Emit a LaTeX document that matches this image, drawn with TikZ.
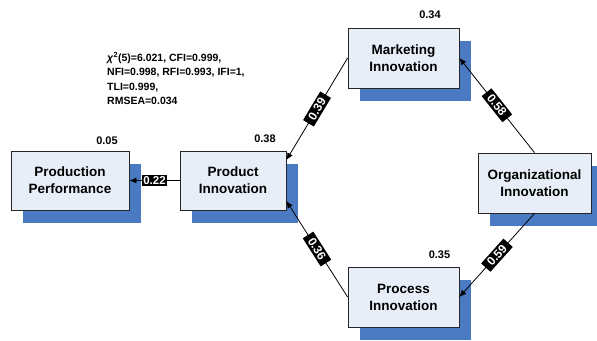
\documentclass[tikz,border=0pt]{standalone}
\usepackage{fontspec}
\setmainfont{Liberation Sans}
\usetikzlibrary{arrows.meta,shadows}
\definecolor{boxfill}{HTML}{E8EEF8}
\definecolor{shadowblue}{HTML}{4A7AC2}
\begin{document}
\begin{tikzpicture}[x=1pt,y=-1pt,
  varbox/.style={draw=black!85, line width=0.8pt, fill=boxfill, align=center,
    font=\fontsize{13.5}{17}\selectfont\bfseries, inner sep=0pt,
    drop shadow={shadow xshift=12pt, shadow yshift=-13pt, fill=shadowblue, opacity=1}},
  conn/.style={-{Latex[length=7pt,width=6pt]}, line width=0.8pt},
  coef/.style={midway, sloped, fill=black, text=white,
    font=\fontsize{12}{12}\selectfont\bfseries, inner xsep=5pt, inner ysep=2pt},
  coefh/.style={midway, fill=black, text=white,
    font=\fontsize{11.5}{11.5}\selectfont\bfseries, inner xsep=1pt, inner ysep=1.5pt},
  rsq/.style={font=\fontsize{11}{11}\selectfont\bfseries, inner sep=0pt}]
\useasboundingbox (0,0) rectangle (597,340);

\node[varbox, minimum width=118pt, minimum height=59pt] (pp) at (70,180.5) {Production\\Performance};
\node[varbox, minimum width=106pt, minimum height=59pt] (pi) at (233,180.5) {Product\\Innovation};
\node[varbox, minimum width=111pt, minimum height=60pt] (mi) at (403.5,58) {Marketing\\Innovation};
\node[varbox, minimum width=113pt, minimum height=60pt] (oi) at (534.5,183) {Organizational\\Innovation};
\node[varbox, minimum width=111pt, minimum height=60pt] (pr) at (403.5,297) {Process\\Innovation};

\node[rsq] (r1) at (107,141) {0.05};
\node[rsq] (r2) at (265,139) {0.38};
\node[rsq] (r3) at (430,15) {0.34};
\node[rsq] (r4) at (439.5,255) {0.35};

\node[anchor=north west, align=left, inner sep=0pt,
  font=\fontsize{10.5}{14.5}\selectfont\bfseries] (fit) at (107,52)
  {\textit{χ}\textsuperscript{2}(5)=6.021, CFI=0.999,\\NFI=0.998, RFI=0.993, IFI=1,\\TLI=0.999,\\RMSEA=0.034};

\draw[conn] (mi.west) -- ([yshift=20.5pt]pi.east) node[coef] {0.39};
\draw[conn] (pr.west) -- ([yshift=-20.5pt]pi.east) node[coef] {0.36};
\draw[conn] (oi.north) -- (mi.east) node[coef] {0.58};
\draw[conn] (oi.south) -- (pr.east) node[coef] {0.59};
\draw[conn] (pi.west) -- (pp.east) node[coefh] {0.22};
\end{tikzpicture}
\end{document}
